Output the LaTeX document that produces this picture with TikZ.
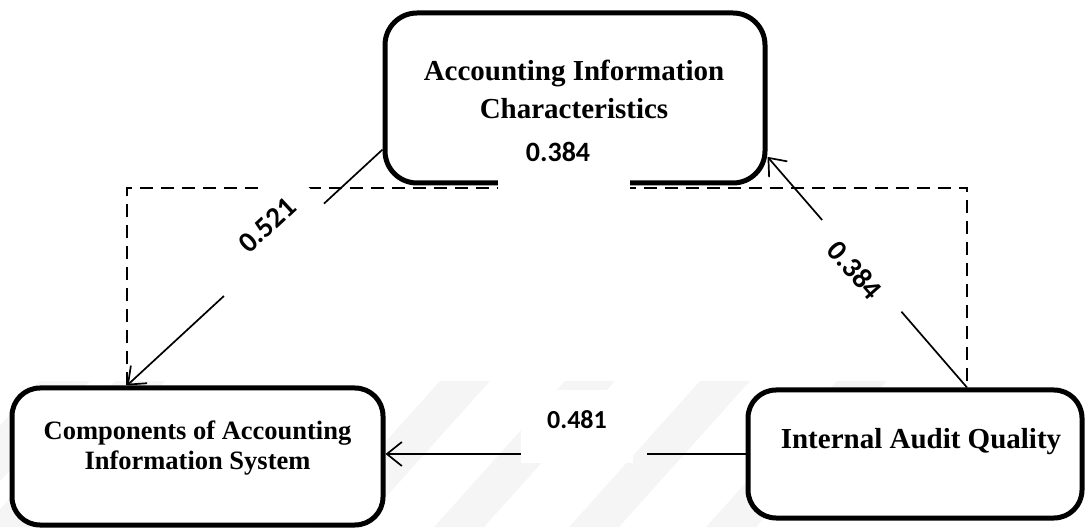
\documentclass[tikz,border=0pt]{standalone}
\usepackage{fontspec}
\setmainfont{Liberation Serif}
\newfontfamily\numfont{Carlito}
\usetikzlibrary{arrows.meta,calc}

\begin{document}
\begin{tikzpicture}[x=1pt,y=1pt,
  box/.style={draw, line width=5pt, fill=white, inner sep=0pt},
  boxtext/.style={font=\bfseries, align=center, inner sep=0pt},
  plain/.style={line width=1.7pt},
  link/.style={line width=1.7pt, -{Straight Barb[length=15pt,width=24pt]}},
  dashpath/.style={line width=1.5pt, dash pattern=on 13pt off 8pt},
  maskbox/.style={fill=white, inner sep=0pt},
  coef/.style={inner sep=0pt}
]
\useasboundingbox (0,0) rectangle (1086,527);

% faint diagonal bands in the lower part
\foreach \a in {40,115,440,565,700,837}{
  \fill[gray!8] (\a,146) -- (\a+50,146) -- (\a-81,0) -- (\a-131,0) -- cycle;
}

% the three constructs
\node[box, rounded corners=32pt, minimum width=380pt, minimum height=170pt] (ac) at (575,429) {};
\node[box, rounded corners=28pt, minimum width=371pt, minimum height=137pt] (cs) at (197.5,70.5) {};
\node[box, rounded corners=28pt, minimum width=334pt, minimum height=128pt] (iq) at (915,73) {};

\node[boxtext, font={\bfseries\fontsize{29}{38}\selectfont}] (acT) at (574,438) {Accounting Information\\Characteristics};
\node[boxtext, font={\bfseries\fontsize{26.5}{30}\selectfont}] (csT) at (197.5,79) {Components of Accounting\\Information System};
\node[boxtext, font={\bfseries\fontsize{29}{34}\selectfont}] (iqT) at (921,85) {Internal Audit Quality};

% indirect path (dashed)
\coordinate (dl) at (127,339);
\coordinate (dr) at (967,339);
\draw[dashpath] (cs.north -| dl) -- (dl) -- (dr) -- (iq.north -| dr);

% direct effects
\draw[link] (ac.195.3) -- (cs.north -| dl);
\draw[link] (iq.north -| dr) -- (ac.-17.5);
\coordinate (g1) at (521,73);
\coordinate (g2) at (647,73);
\draw[plain] (iq.west) -- (g2);
\draw[link] (g1) -- (cs.east |- g1);

% label backgrounds
\node[maskbox, minimum width=132pt, minimum height=64pt] (m1) at (564,367) {};
\node[maskbox, minimum width=112pt, minimum height=73pt] (m2) at (577,100.5) {};
\node[maskbox, rotate=42.9, minimum width=136pt, minimum height=62pt] (m3) at (258.5,293.8) {};
\node[maskbox, rotate=-48.7, minimum width=121pt, minimum height=44pt] (m4) at (861,260.5) {};

% path coefficients
\node[coef, font={\numfont\bfseries\fontsize{28}{28}\selectfont}] (l1) at (558,375) {0.384};
\node[coef, font={\numfont\bfseries\fontsize{26}{26}\selectfont}] (l2) at (577,107) {0.481};
\node[coef, rotate=42.9, font={\numfont\bfseries\fontsize{29}{29}\selectfont}] (l3) at (267,302) {0.521};
\node[coef, rotate=-48.7, font={\numfont\bfseries\fontsize{29}{29}\selectfont}] (l4) at (855,257) {0.384};
\end{tikzpicture}
\end{document}
